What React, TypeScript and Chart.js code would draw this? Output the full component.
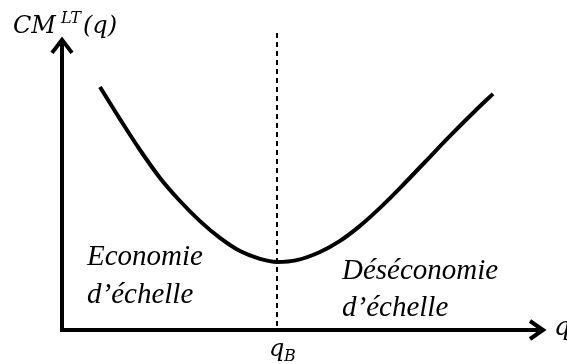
import React, { useEffect, useRef } from 'react';
import { Chart, registerables } from 'chart.js';

Chart.register(...registerables);

// Long-run average cost curve CM^LT(q)
const qValues = [0.785, 1.198, 1.612, 2.025, 2.438, 2.851, 3.264, 3.678, 4.091, 4.442, 4.855, 5.331, 5.744, 6.157, 6.57, 6.983, 7.5, 8.017, 8.533, 8.905];
const costValues = [8.1, 7.03, 6.0, 5.07, 4.3, 3.63, 3.07, 2.63, 2.37, 2.27, 2.33, 2.6, 2.97, 3.47, 4.07, 4.73, 5.6, 6.47, 7.3, 7.87];
const qB = 4.442;
const dashedTop = 9.9;
const xMax = 10;
const yMax = 10;
const yArrowTop = 9.77;

const yAxisLabel = ['CM', 'LT', '(q)'];
const xAxisLabel = 'q';
const qBLabel = ['q', 'B'];
const leftLabel = ['Economie', 'd\u2019échelle'];
const rightLabel = ['Déséconomie', 'd\u2019échelle'];

const MATH_FAMILY = '"DejaVu Serif", "Liberation Serif", serif';
const TEXT_FAMILY = '"Liberation Serif", "Times New Roman", serif';

const drawPlugin = {
  id: 'econDecor',
  afterDatasetsDraw(chart: any) {
    const ctx = chart.ctx as CanvasRenderingContext2D;
    const xs = chart.scales.x;
    const ys = chart.scales.y;
    const X = (v: number) => xs.getPixelForValue(v);
    const Y = (v: number) => ys.getPixelForValue(v);
    const x0 = X(0);
    const y0 = Y(0);
    const yTop = Y(yArrowTop);
    const xRight = X(xMax);
    ctx.save();
    ctx.strokeStyle = '#000';
    ctx.lineWidth = 4;
    ctx.lineJoin = 'miter';
    ctx.lineCap = 'butt';
    // axes
    ctx.beginPath();
    ctx.moveTo(x0, yTop + 2);
    ctx.lineTo(x0, y0);
    ctx.lineTo(xRight - 2, y0);
    ctx.stroke();
    // arrowheads
    ctx.beginPath();
    ctx.moveTo(x0 - 10, yTop + 16);
    ctx.lineTo(x0, yTop + 3);
    ctx.lineTo(x0 + 10, yTop + 16);
    ctx.stroke();
    ctx.beginPath();
    ctx.moveTo(xRight - 16, y0 - 9);
    ctx.lineTo(xRight - 3, y0);
    ctx.lineTo(xRight - 16, y0 + 9);
    ctx.stroke();

    ctx.fillStyle = '#000';
    ctx.textBaseline = 'alphabetic';
    ctx.textAlign = 'left';
    const math = (size: number) => `italic ${size}px ${MATH_FAMILY}`;
    // y axis label
    ctx.font = math(24);
    ctx.fillText(yAxisLabel[0], x0 - 49, yTop - 4);
    ctx.font = math(16);
    ctx.fillText(yAxisLabel[1], x0 - 1, yTop - 14);
    ctx.font = math(24);
    ctx.fillText(yAxisLabel[2], x0 + 21, yTop - 4);
    // x axis label
    ctx.font = math(26);
    ctx.fillText(xAxisLabel, xRight + 8, y0 + 5);
    // qB label
    const xb = X(qB);
    ctx.font = math(24);
    ctx.fillText(qBLabel[0], xb - 8, y0 + 26);
    ctx.font = math(16);
    ctx.fillText(qBLabel[1], xb + 7, y0 + 31);
    // region labels
    ctx.font = `italic 29px ${TEXT_FAMILY}`;
    ctx.fillText(leftLabel[0], x0 + 25, y0 - 65);
    ctx.fillText(leftLabel[1], x0 + 25, y0 - 27);
    ctx.fillText(rightLabel[0], xb + 65, y0 - 51);
    ctx.fillText(rightLabel[1], xb + 65, y0 - 14);
    ctx.restore();
  },
};

export default function App() {
  const ref = useRef<HTMLCanvasElement | null>(null);
  useEffect(() => {
    if (!ref.current) return;
    const curve = qValues.map((q, i) => ({ x: q, y: costValues[i] }));
    const chart = new Chart(ref.current, {
      type: 'line',
      data: {
        datasets: [
          {
            data: [
              { x: qB, y: dashedTop },
              { x: qB, y: 0 },
            ],
            borderColor: '#000',
            borderWidth: 2,
            borderDash: [5, 4],
            pointRadius: 0,
            tension: 0,
            clip: false,
          } as any,
          {
            data: curve,
            borderColor: '#000',
            borderWidth: 4,
            cubicInterpolationMode: 'monotone',
            borderJoinStyle: 'round',
            pointRadius: 0,
            clip: false,
          } as any,
        ],
      },
      options: {
        responsive: false,
        animation: false,
        events: [],
        layout: { padding: { left: 62, right: 21, top: 30, bottom: 34 } },
        scales: {
          x: { type: 'linear', min: 0, max: xMax, display: false },
          y: { type: 'linear', min: 0, max: yMax, display: false },
        },
        plugins: { legend: { display: false }, tooltip: { enabled: false } },
      },
      plugins: [drawPlugin],
    });
    return () => chart.destroy();
  }, []);
  return (
    <div style={{ position: 'fixed', left: 0, top: 0, width: 567, height: 364, background: '#fff' }}>
      <canvas ref={ref} width={567} height={364} style={{ display: 'block', width: 567, height: 364 }} />
    </div>
  );
}
